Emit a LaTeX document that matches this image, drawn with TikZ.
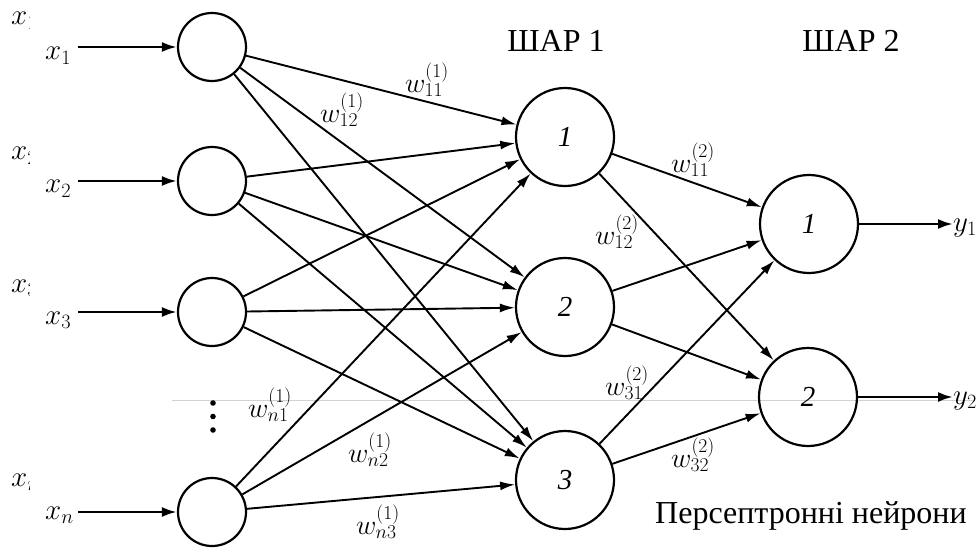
\RequirePackage{fix-cm}
\documentclass[tikz,border=0pt]{standalone}
\usepackage{fontspec}
\setmainfont{Liberation Serif}
\usetikzlibrary{arrows.meta}
\tikzset{
  inp/.style={circle,draw,line width=2.2pt,minimum size=68pt,inner sep=0pt},
  neu/.style={circle,draw,line width=2.2pt,minimum size=98pt,inner sep=0pt,font=\fontsize{29}{31}\selectfont\itshape},
  conn/.style={line width=1.9pt,-{Latex[length=15pt,width=9pt]}},
  inarr/.style={line width=2.6pt,-{Latex[length=15pt,width=10pt]}},
  wl/.style={font=\fontsize{28}{30}\selectfont,inner sep=0pt},
  xl/.style={font=\fontsize{29}{31}\selectfont,inner sep=0pt,anchor=base west},
  ttl/.style={font=\fontsize{32}{34}\selectfont,inner sep=0pt}
}
\begin{document}
\begin{tikzpicture}[x=1pt,y=-1pt]
\useasboundingbox (0,0) rectangle (979,548);
% faint scan line
\draw[gray!35,line width=1pt] (172,400) -- (975,400);
% cropped left labels
\begin{scope}
\clip (0,0) rectangle (29,548);
\node[xl] (cx1) at (11,25) {$x_1$};
\node[xl] (cx2) at (11,160) {$x_2$};
\node[xl] (cx3) at (11,292) {$x_3$};
\node[xl] (cxn) at (11,486) {$x_n$};
\end{scope}
% input layer
\node[inp] (in1) at (212,47) {};
\node[inp] (in2) at (212,181) {};
\node[inp] (in3) at (212,312) {};
\node[inp] (inn) at (212,512) {};
\fill (213,403) circle (2.8pt) (213,416.5) circle (2.8pt) (213,430) circle (2.8pt);
% hidden layer
\node[neu] (h1) at (565,137) {1};
\node[neu] (h2) at (565,307) {2};
\node[neu] (h3) at (565,480) {3};
% output layer
\node[neu] (o1) at (809,224) {1};
\node[neu] (o2) at (808,397) {2};
% input labels
\node[xl] (x1) at (45,60) {$x_1$};
\node[xl] (x2) at (45,193) {$x_2$};
\node[xl] (x3) at (45,324) {$x_3$};
\node[xl] (xn) at (45,519) {$x_n$};
\coordinate (s1) at (78,47);
\coordinate (s2) at (78,181);
\coordinate (s3) at (78,312);
\coordinate (sn) at (78,512);
\draw[inarr] (s1) -- (in1);
\draw[inarr] (s2) -- (in2);
\draw[inarr] (s3) -- (in3);
\draw[inarr] (sn) -- (inn);
% connections layer 1
\foreach \i in {in1,in2,in3,inn}{
  \foreach \j in {h1,h2,h3}{
    \draw[conn] (\i) -- (\j);
  }
}
% connections layer 2
\foreach \i in {h1,h2,h3}{
  \foreach \j in {o1,o2}{
    \draw[conn] (\i) -- (\j);
  }
}
% outputs
\node[xl] (y1) at (953,231) {$y_1$};
\node[xl] (y2) at (953,404) {$y_2$};
\draw[inarr] (o1) -- (y1.west |- o1);
\draw[inarr] (o2) -- (y2.west |- o2);
% weight labels
\node[wl] (w111) at (427,80) {$w_{11}^{(1)}$};
\node[wl] (w112) at (342,110) {$w_{12}^{(1)}$};
\node[wl] (w1n1) at (270,405) {$w_{n1}^{(1)}$};
\node[wl] (w1n2) at (370,450) {$w_{n2}^{(1)}$};
\node[wl] (w1n3) at (378,522) {$w_{n3}^{(1)}$};
\node[wl] (w211) at (693,160) {$w_{11}^{(2)}$};
\node[wl] (w212) at (617,232) {$w_{12}^{(2)}$};
\node[wl] (w231) at (627,383) {$w_{31}^{(2)}$};
\node[wl] (w232) at (693,455) {$w_{32}^{(2)}$};
% titles
\node[ttl] (t1) at (556,41) {ШАР 1};
\node[ttl] (t2) at (851,41) {ШАР 2};
\node[ttl,anchor=base west] (t3) at (655,523) {Персептронні нейрони};
\end{tikzpicture}
\end{document}
